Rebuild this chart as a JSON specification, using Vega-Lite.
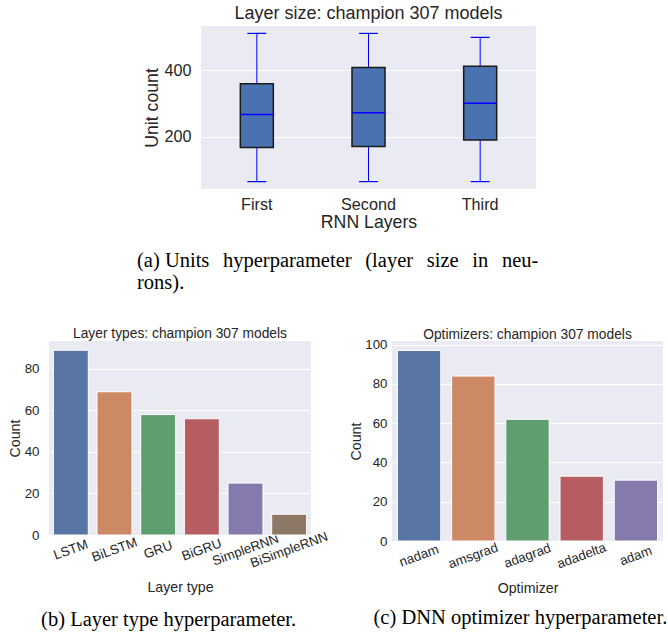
{
  "$schema": "https://vega.github.io/schema/vega-lite/v6.json",
  "background": "white",
  "padding": {"left": 8, "top": 5, "right": 0, "bottom": 0},
  "config": {
    "view": {"stroke": null, "fill": "#eaeaf2"},
    "font": "Liberation Sans",
    "axis": {"domain": false, "ticks": false, "labelColor": "#262626", "titleColor": "#262626", "titleFontWeight": "normal", "gridColor": "white", "gridWidth": 1},
    "title": {"font": "Liberation Sans", "fontWeight": "normal", "color": "#262626"}
  },
  "spacing": 33,
  "vconcat": [
    {
      "title": {"text": ["(a) Units \u2004\u200ahyperparameter \u2004\u200a(layer \u2004\u200asize \u2004\u200ain \u2004\u200aneu-", "rons)."], "orient": "bottom", "anchor": "start", "align": "left", "font": "Liberation Serif", "fontSize": 20.5, "color": "black", "lineHeight": 22, "offset": 20, "dx": 88},
      "spacing": 0,
      "hconcat": [
        {
          "width": 94,
          "height": 1,
          "view": {"fill": null, "stroke": null},
          "data": {"values": []},
          "mark": "point"
        },
        {
          "title": {"text": "Layer size: champion 307 models", "fontSize": 18, "offset": 3},
          "width": 335,
          "height": 163,
          "data": {"values": [
            {"layer": "First", "lower": 64, "q1": 167, "median": 267, "q3": 360, "upper": 512},
            {"layer": "Second", "lower": 64, "q1": 170, "median": 272, "q3": 409, "upper": 512},
            {"layer": "Third", "lower": 64, "q1": 190, "median": 301, "q3": 413, "upper": 500}
          ]},
          "encoding": {
            "x": {"field": "layer", "type": "nominal", "sort": null, "scale": {"paddingInner": 0, "paddingOuter": 0},
                  "axis": {"title": "RNN Layers", "labelAngle": 0, "labelFontSize": 16.2, "titleFontSize": 17.7, "labelPadding": 7, "titlePadding": 1, "grid": false}}
          },
          "layer": [
            {"mark": {"type": "rule", "color": "blue", "strokeWidth": 1},
             "encoding": {"y": {"field": "lower", "type": "quantitative", "scale": {"domain": [41.6, 534.4], "nice": false, "zero": false},
                                "axis": {"title": "Unit count", "values": [200, 400], "labelFontSize": 16.2, "titleFontSize": 17.7, "labelPadding": 10, "titlePadding": 2}},
                          "y2": {"field": "upper"}}},
            {"mark": {"type": "bar", "fill": "#4a72b0", "stroke": "#1a1a1a", "strokeWidth": 1.5, "size": 33},
             "encoding": {"y": {"field": "q1", "type": "quantitative"}, "y2": {"field": "q3"}}},
            {"mark": {"type": "tick", "color": "blue", "size": 33, "thickness": 1.5, "opacity": 1},
             "encoding": {"y": {"field": "median", "type": "quantitative"}}},
            {"mark": {"type": "tick", "color": "blue", "size": 19, "thickness": 1.2, "opacity": 1},
             "encoding": {"y": {"field": "lower", "type": "quantitative"}}},
            {"mark": {"type": "tick", "color": "blue", "size": 19, "thickness": 1.2, "opacity": 1},
             "encoding": {"y": {"field": "upper", "type": "quantitative"}}}
          ]
        }
      ]
    },
    {
      "spacing": 19,
      "hconcat": [
        {
          "title": {"text": "(b) Layer type hyperparameter.", "orient": "bottom", "anchor": "middle", "font": "Liberation Serif", "fontSize": 20.5, "color": "black", "offset": 15},
          "vconcat": [
            {
              "title": {"text": "Layer types: champion 307 models", "fontSize": 13.8, "offset": 0, "frame": "group"},
              "width": 262,
              "height": 194,
              "data": {"values": [
                {"layer": "LSTM", "count": 89},
                {"layer": "BiLSTM", "count": 69},
                {"layer": "GRU", "count": 58},
                {"layer": "BiGRU", "count": 56},
                {"layer": "SimpleRNN", "count": 25},
                {"layer": "BiSimpleRNN", "count": 10}
              ]},
              "mark": {"type": "bar", "stroke": "white", "strokeWidth": 1},
              "encoding": {
                "x": {"field": "layer", "type": "nominal", "sort": null, "scale": {"paddingInner": 0.2, "paddingOuter": 0.1},
                      "axis": {"title": "Layer type", "labelAngle": -20, "labelAlign": "center", "labelBaseline": "middle", "labelFontSize": 13.3, "titleFontSize": 14.2, "labelPadding": 14.5, "titlePadding": 11.5, "grid": false,
                               "encode": {"labels": {"update": {"dy": {"signal": "length(datum.label) * 1.1"}}}}}},
                "y": {"field": "count", "type": "quantitative", "scale": {"domain": [0, 93.45], "nice": false},
                      "axis": {"title": "Count", "values": [0, 20, 40, 60, 80], "labelFontSize": 13.3, "titleFontSize": 14.2, "labelPadding": 10, "titlePadding": 2}},
                "color": {"field": "layer", "type": "nominal", "sort": null, "legend": null,
                          "scale": {"range": ["#5975a4", "#cc8963", "#5f9e6e", "#b55d60", "#857aab", "#8d7866"]}}
              }
            }
          ]
        },
        {
          "title": {"text": "(c) DNN optimizer hyperparameter.", "orient": "bottom", "anchor": "middle", "font": "Liberation Serif", "fontSize": 20.5, "color": "black", "offset": 12, "dx": 14},
          "vconcat": [
            {
              "title": {"text": "Optimizers: champion 307 models", "fontSize": 13.8, "offset": -4.5, "frame": "group"},
              "width": 271,
              "height": 200,
              "data": {"values": [
                {"optimizer": "nadam", "count": 97},
                {"optimizer": "amsgrad", "count": 84},
                {"optimizer": "adagrad", "count": 62},
                {"optimizer": "adadelta", "count": 33},
                {"optimizer": "adam", "count": 31}
              ]},
              "mark": {"type": "bar", "stroke": "white", "strokeWidth": 1},
              "encoding": {
                "x": {"field": "optimizer", "type": "nominal", "sort": null, "scale": {"paddingInner": 0.2, "paddingOuter": 0.1},
                      "axis": {"title": "Optimizer", "labelAngle": -20, "labelAlign": "center", "labelBaseline": "middle", "labelFontSize": 13.3, "titleFontSize": 14.2, "labelPadding": 14.5, "titlePadding": 11.5, "grid": false,
                               "encode": {"labels": {"update": {"dy": {"signal": "length(datum.label) * 1.1"}}}}}},
                "y": {"field": "count", "type": "quantitative", "scale": {"domain": [0, 101.85], "nice": false},
                      "axis": {"title": "Count", "values": [0, 20, 40, 60, 80, 100], "labelFontSize": 13.3, "titleFontSize": 14.2, "labelPadding": 5, "titlePadding": 1}},
                "color": {"field": "optimizer", "type": "nominal", "sort": null, "legend": null,
                          "scale": {"range": ["#5975a4", "#cc8963", "#5f9e6e", "#b55d60", "#857aab"]}}
              }
            }
          ]
        }
      ]
    }
  ]
}
